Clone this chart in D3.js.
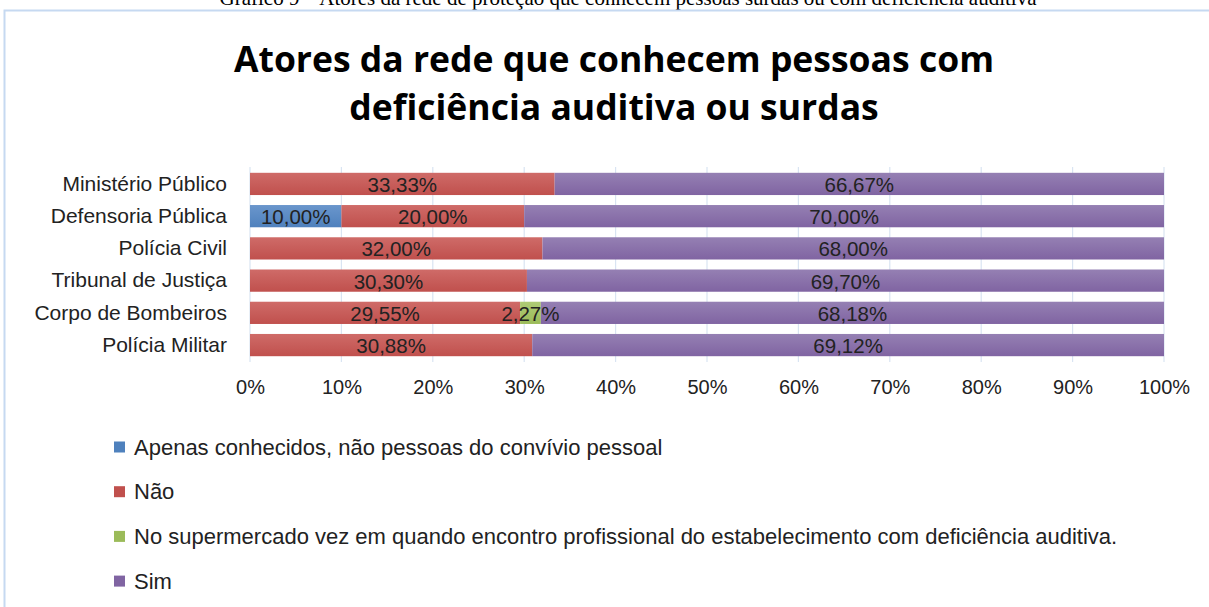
<!DOCTYPE html>
<html>
<head>
<meta charset="utf-8">
<script src="https://cdn.jsdelivr.net/npm/d3@7"></script>
<style>
  body { margin: 0; background: #fff; }
  svg { display: block; }
</style>
</head>
<body>
<svg id="chart" width="1209" height="607"></svg>
<script>
// data
const categories = ["Ministério Público", "Defensoria Pública", "Polícia Civil", "Tribunal de Justiça", "Corpo de Bombeiros", "Polícia Militar"];
const seriesNames = ["Apenas conhecidos, não pessoas do convívio pessoal", "Não", "No supermercado vez em quando encontro profissional do estabelecimento com deficiência auditiva.", "Sim"];
const apenas = [0, 10.00, 0, 0, 0, 0];
const nao = [33.33, 20.00, 32.00, 30.30, 29.55, 30.88];
const supermercado = [0, 0, 0, 0, 2.27, 0];
const sim = [66.67, 70.00, 68.00, 69.70, 68.18, 69.12];
const tickValues = [0, 10, 20, 30, 40, 50, 60, 70, 80, 90, 100];

const colors = ["#4F81BD", "#C0504D", "#9BBB59", "#8064A2"];
const lightColors = ["#6a96cc", "#cf6b68", "#aecb75", "#9580b3"];

const svg = d3.select("#chart");
const font = "Liberation Sans, Arial, sans-serif";

// caption above the chart (partly cut off, as in the reference)
svg.append("text")
  .attr("x", 628).attr("y", 5)
  .attr("text-anchor", "middle")
  .attr("font-family", "Liberation Serif, serif")
  .attr("font-size", 21)
  .text("Gráfico 9 – Atores da rede de proteção que conhecem pessoas surdas ou com deficiência auditiva");

// frame
svg.append("rect")
  .attr("x", 4.5).attr("y", 10.5)
  .attr("width", 1220).attr("height", 620)
  .attr("fill", "#fff")
  .attr("stroke", "#c6d9f1").attr("stroke-width", 2);

// title
const title = svg.append("text")
  .attr("text-anchor", "middle")
  .attr("font-family", "Open Sans, sans-serif")
  .attr("font-weight", "bold")
  .attr("font-size", 35.5);
title.append("tspan").attr("x", 614).attr("y", 72).text("Atores da rede que conhecem pessoas com");
title.append("tspan").attr("x", 614).attr("y", 120).text("deficiência auditiva ou surdas");

// gradients
const defs = svg.append("defs");
colors.forEach((c, i) => {
  const g = defs.append("linearGradient").attr("id", "grad" + i)
    .attr("x1", 0).attr("y1", 0).attr("x2", 0).attr("y2", 1);
  g.append("stop").attr("offset", "0%").attr("stop-color", lightColors[i]);
  g.append("stop").attr("offset", "100%").attr("stop-color", c);
});

const x = d3.scaleLinear().domain([0, 100]).range([250, 1164]);
const y = d3.scaleBand().domain(categories).range([167, 362]).paddingInner(0.31).paddingOuter(0.18);

// gridlines
svg.append("g").selectAll("line").data(tickValues).join("line")
  .attr("x1", d => x(d)).attr("x2", d => x(d))
  .attr("y1", 167).attr("y2", 362)
  .attr("stroke", "#d9e4f2").attr("stroke-width", 1.2);

// x axis labels
const xAxis = d3.axisBottom(x).tickValues(tickValues).tickFormat(d => d + "%").tickSize(0).tickPadding(0);
const xg = svg.append("g").attr("transform", "translate(0,380)").call(xAxis);
xg.select(".domain").remove();
xg.selectAll("text")
  .attr("font-family", font)
  .attr("font-size", 20).attr("fill", "#222");

// y axis labels
const yAxis = d3.axisLeft(y).tickSize(0).tickPadding(0);
const yg = svg.append("g").attr("transform", "translate(227,0)").call(yAxis);
yg.select(".domain").remove();
yg.selectAll("text")
  .attr("font-family", font)
  .attr("font-size", 21).attr("fill", "#222");

// stack
const rows = categories.map((c, i) => ({ cat: c, s0: apenas[i], s1: nao[i], s2: supermercado[i], s3: sim[i] }));
const stack = d3.stack().keys(["s0", "s1", "s2", "s3"]);
const series = stack(rows);

const fmt = v => v.toFixed(2).replace(".", ",") + "%";

const barG = svg.append("g");
const labelG = svg.append("g");
series.forEach((s, si) => {
  const segs = s.filter(d => d[1] - d[0] > 0);
  barG.append("g").selectAll("rect").data(segs).join("rect")
    .attr("x", d => x(d[0]))
    .attr("y", d => y(d.data.cat))
    .attr("width", d => x(d[1]) - x(d[0]))
    .attr("height", y.bandwidth())
    .attr("fill", "url(#grad" + si + ")");
  labelG.append("g").selectAll("text").data(segs).join("text")
    .attr("x", d => (x(d[0]) + x(d[1])) / 2)
    .attr("y", d => y(d.data.cat) + y.bandwidth() / 2 + 8)
    .attr("text-anchor", "middle")
    .attr("font-family", font)
    .attr("font-size", 20.5).attr("fill", "#222")
    .text(d => fmt(d[1] - d[0]));
});

// legend
const legend = svg.append("g");
seriesNames.forEach((n, i) => {
  const yy = 447 + i * 44.7;
  legend.append("rect").attr("x", 114).attr("y", yy - 5.5).attr("width", 11).attr("height", 11)
    .attr("fill", colors[i]);
  legend.append("text").attr("x", 134).attr("y", yy + 7.5)
    .attr("font-family", font)
    .attr("font-size", 22).attr("fill", "#222")
    .text(n);
});
</script>
</body>
</html>
